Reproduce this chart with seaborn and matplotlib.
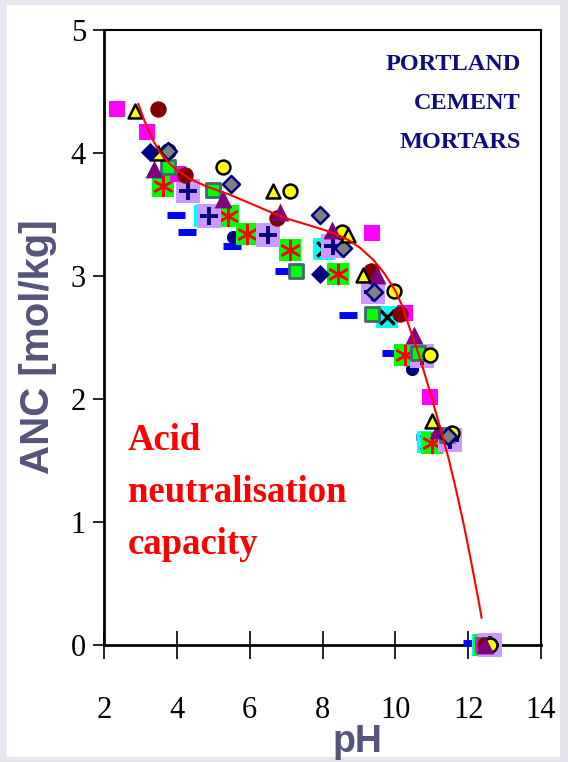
import matplotlib
matplotlib.use("Agg")
import matplotlib.pyplot as plt
import matplotlib.patches as mpatches
import seaborn as sns

# --- data: acid neutralisation capacity (ANC, mol/kg) versus pH ---
mag_ph = [2.35, 3.17, 4.04, 9.35, 10.27, 10.94, 12.4]
mag_anc = [4.36, 4.17, 3.83, 3.35, 2.70, 2.02, 0.0]

ytri_ph = [2.85, 3.49, 6.65, 8.71, 9.12, 11.0]
ytri_anc = [4.34, 4.00, 3.69, 3.33, 3.01, 1.82]

dred_ph = [3.49, 4.22, 6.75, 9.33, 10.13, 12.45]
dred_anc = [4.36, 3.82, 3.47, 3.04, 2.69, 0.0]

navyd_ph = [3.25, 7.93]
navyd_anc = [4.01, 3.02]

grayd_ph = [3.77, 5.48, 7.93, 8.57, 9.42, 11.45]
grayd_anc = [4.02, 3.75, 3.50, 3.23, 2.87, 1.70]

ycirc_ph = [3.77, 5.28, 7.11, 8.53, 9.95, 10.94, 11.55, 12.6]
ycirc_anc = [4.02, 3.89, 3.69, 3.36, 2.88, 2.36, 1.72, 0.0]

tsq_ph = [3.77, 4.98, 7.27, 9.35, 10.63, 11.41, 12.45]
tsq_anc = [3.89, 3.70, 3.04, 2.69, 2.37, 1.71, 0.0]

ptri_ph = [3.36, 5.26, 6.84, 8.25, 9.49, 10.5, 11.18, 12.47]
ptri_anc = [3.87, 3.63, 3.52, 3.37, 3.01, 2.52, 1.75, 0.0]

star_ph = [3.63, 5.41, 5.92, 7.11, 8.43, 10.27, 11.0, 12.43]
star_anc = [3.73, 3.49, 3.34, 3.21, 3.02, 2.36, 1.64, 0.0]

plus_ph = [4.32, 4.89, 6.51, 8.3, 9.4, 10.73, 11.5, 12.6]
plus_anc = [3.69, 3.49, 3.33, 3.24, 2.87, 2.35, 1.67, 0.0]

xcy_ph = [4.78, 8.03, 9.77, 10.91, 12.4]
xcy_anc = [3.49, 3.22, 2.67, 1.65, 0.0]

dash_ph = [3.97, 4.28, 5.51, 6.93, 8.71, 9.88, 10.82, 12.1]
dash_anc = [3.50, 3.36, 3.24, 3.04, 2.68, 2.37, 1.69, 0.02]

ncirc_ph = [5.53, 10.45, 12.35]
ncirc_anc = [3.32, 2.24, 0.0]

# fitted trend curve
curve_ph = [2.94, 3.10, 3.30, 3.50, 3.75, 4.00, 4.36, 4.80, 5.46, 6.10, 6.65,
            7.10, 7.66, 8.20, 8.67, 9.03, 9.40, 9.70, 10.00, 10.20, 10.40,
            10.68, 10.91, 11.20, 11.46, 11.70, 11.90, 12.10, 12.28, 12.37]
curve_anc = [4.40, 4.27, 4.13, 4.02, 3.93, 3.86, 3.79, 3.73, 3.66, 3.58, 3.51,
             3.46, 3.41, 3.36, 3.30, 3.23, 3.13, 3.02, 2.88, 2.75, 2.57,
             2.33, 2.10, 1.80, 1.52, 1.22, 0.95, 0.65, 0.37, 0.22]

x_ticks = [2, 4, 6, 8, 10, 12, 14]
y_ticks = [0, 1, 2, 3, 4, 5]

sns.set_style("ticks")
plt.rcParams["font.family"] = ["Liberation Serif", "DejaVu Serif"]

W, H = 568, 762
fig = plt.figure(figsize=(W / 100, H / 100), dpi=100)
fig.patch.set_facecolor("#e7e5ed")
fig.patches.append(mpatches.Rectangle((7 / W, 5 / H), (560 - 7) / W, (757 - 5) / H,
                                      transform=fig.transFigure, facecolor="white",
                                      edgecolor="none", zorder=-1))

ax = fig.add_axes([104 / W, 1 - 645 / H, (541 - 104) / W, (645 - 30) / H])
ax.set_zorder(1)
ax.set_facecolor("white")


def pts(x, y, **kw):
    sns.scatterplot(x=x, y=y, ax=ax, clip_on=False, legend=False, **kw)


# marker series, back to front
pts(ncirc_ph, ncirc_anc, marker="o", s=90, color="#000080", linewidth=0, zorder=3)
pts(dash_ph, dash_anc, marker="_", s=180, color="#0000ff", linewidth=5, zorder=3.1)
pts(xcy_ph, xcy_anc, marker="s", s=260, color="#00ffff", linewidth=0, zorder=3.2)
pts(xcy_ph, xcy_anc, marker="x", s=110, color="black", linewidth=2.4, zorder=3.21)
pts(star_ph, star_anc, marker="s", s=265, color="#00ff00", linewidth=0, zorder=3.3)
pts(star_ph, star_anc, marker=(6, 2, 0), s=190, color="#ff0000", linewidth=1.8, zorder=3.31)
pts(plus_ph, plus_anc, marker="s", s=285, color="#cc99ff", linewidth=0, zorder=3.4)
pts(plus_ph, plus_anc, marker="+", s=150, color="#000080", linewidth=2.8, zorder=3.41)
pts(mag_ph, mag_anc, marker="s", s=130, color="#ff00ff", linewidth=0, zorder=3.5)
pts(tsq_ph, tsq_anc, marker="s", s=105, color="#00ff00", edgecolor="#3d6b6b",
    linewidth=2.0, zorder=3.6)
pts(dred_ph, dred_anc, marker="o", s=140, color="#800000", linewidth=0, zorder=3.7)
pts(ycirc_ph, ycirc_anc, marker="o", s=100, color="#ffff00", edgecolor="black",
    linewidth=1.8, zorder=3.75)
pts(ptri_ph, ptri_anc, marker="^", s=165, color="#800080", linewidth=0, zorder=3.8)
pts(grayd_ph, grayd_anc, marker="D", s=75, color="#808080", edgecolor="#000080",
    linewidth=1.8, zorder=4.0)
pts(ytri_ph, ytri_anc, marker="^", s=100, color="#ffff00", edgecolor="black",
    linewidth=1.8, zorder=4.1)
pts(navyd_ph, navyd_anc, marker="D", s=95, color="#000080", linewidth=0, zorder=4.2)

sns.lineplot(x=curve_ph, y=curve_anc, ax=ax, sort=False, estimator=None,
             color="#ff0000", linewidth=1.5, zorder=5)

ax.set_xlim(2, 14)
ax.set_ylim(0, 5)
ax.set_xticks(x_ticks)
ax.set_yticks(y_ticks)
ax.set_xticklabels([str(v) for v in x_ticks])
ax.set_yticklabels([str(v) for v in y_ticks])
for sp in ax.spines.values():
    sp.set_visible(True)
    sp.set_color("black")
    sp.set_linewidth(1.5)
ax.spines["left"].set_linewidth(2.0)
ax.spines["bottom"].set_linewidth(2.0)
ax.tick_params(axis="x", direction="inout", length=20, width=1.2, pad=27,
               labelsize=22, colors="black")
ax.tick_params(axis="y", direction="out", length=8, width=1.2, pad=5,
               labelsize=22, colors="black")
ax.set_xlabel("")
ax.set_ylabel("")
ax.grid(False)

ax.text(13.45, 4.675, "PORTLAND", ha="right", va="baseline", color="#0d0d80",
        fontsize=17.5, fontweight="bold")
ax.text(13.45, 4.358, "CEMENT", ha="right", va="baseline", color="#0d0d80",
        fontsize=17.5, fontweight="bold")
ax.text(13.45, 4.041, "MORTARS", ha="right", va="baseline", color="#0d0d80",
        fontsize=17.5, fontweight="bold")

ax.text(2.66, 1.585, "Acid", ha="left", va="baseline", color="#ff0000",
        fontsize=26.5, fontweight="bold")
ax.text(2.66, 1.163, "neutralisation", ha="left", va="baseline", color="#ff0000",
        fontsize=26.5, fontweight="bold")
ax.text(2.66, 0.74, "capacity", ha="left", va="baseline", color="#ff0000",
        fontsize=26.5, fontweight="bold")

label_color = "#55557a"
fig.text(38 / W, 1 - 347 / H, "ANC [mol/kg]", rotation=90, ha="center", va="center",
         color=label_color, fontsize=29, fontweight="bold",
         family=["Liberation Sans", "DejaVu Sans"])
fig.text(357 / W, 1 - 752 / H, "pH", ha="center", va="baseline",
         color=label_color, fontsize=27, fontweight="bold",
         family=["Liberation Sans", "DejaVu Sans"])

fig.savefig("out.png", dpi=100, facecolor=fig.get_facecolor())
